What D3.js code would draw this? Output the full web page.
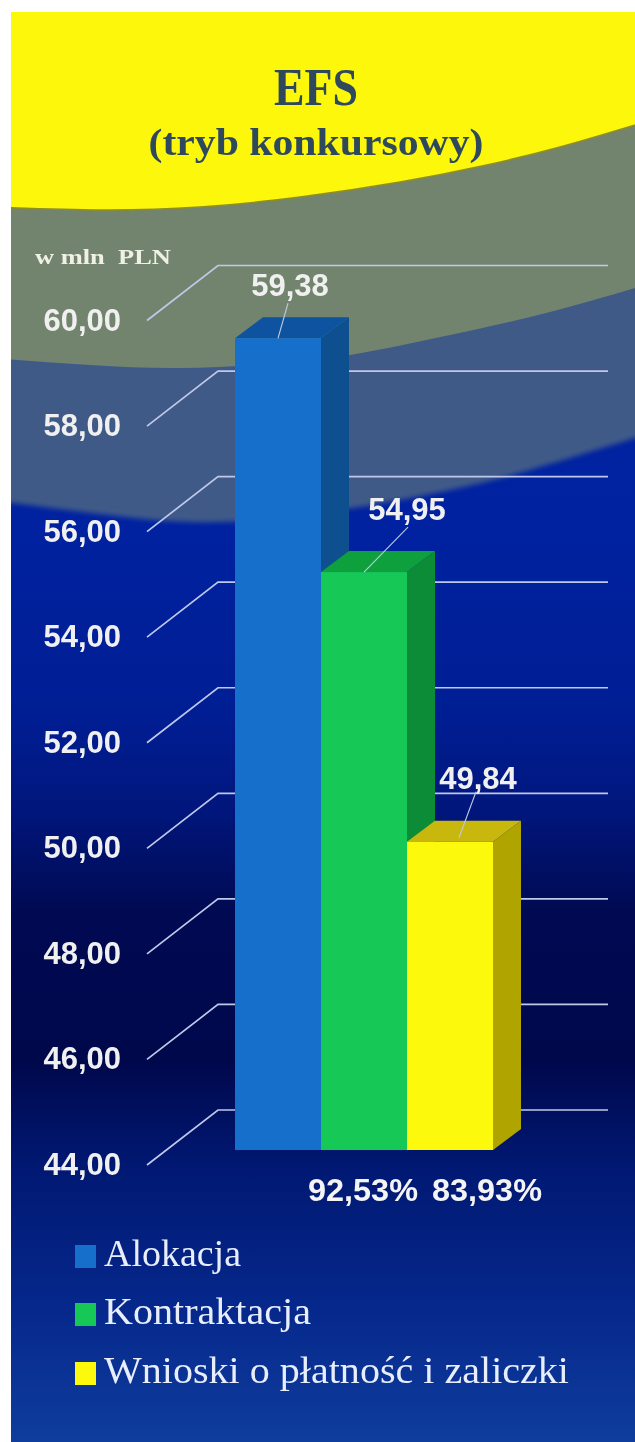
<!DOCTYPE html>
<html><head><meta charset="utf-8">
<script src="https://cdn.jsdelivr.net/npm/d3@7/dist/d3.min.js"></script>
<style>html,body{margin:0;padding:0;background:#fff}svg{display:block}</style>
</head><body><div id="c"></div>
<script>
const categories = ["Alokacja","Kontraktacja","Wnioski o płatność i zaliczki"];
const values = [59.38,54.95,49.84];
const valueLabels = ["59,38","54,95","49,84"];
const percentLabels = ["","92,53%","83,93%"];
const ticks = [44,46,48,50,52,54,56,58,60];
const frontColors = ["#1470cb","#14c855","#fdf90a"];
const topColors = ["#0a52a0","#0fa03c","#c8b80a"];
const sideColors = ["#074f8f","#0c8c38","#b0a400"];
const W=635,H=1442;
const svg=d3.select("#c").append("svg").attr("width",W).attr("height",H);
const defs=svg.append("defs");
const grad=defs.append("linearGradient").attr("id","bg").attr("x1",0).attr("x2",0).attr("y1",0).attr("y2",1);
[[0,"#0026a0"],[0.36,"#0022a0"],[0.485,"#001e94"],[0.555,"#00167c"],[0.624,"#000a52"],[0.728,"#00084c"],[0.8,"#001872"],[0.9,"#06288c"],[1,"#0f3f9e"]].forEach(s=>grad.append("stop").attr("offset",s[0]).attr("stop-color",s[1]));
const soft=defs.append("filter").attr("id","soft");soft.append("feGaussianBlur").attr("stdDeviation",0.45);
const edge=defs.append("filter").attr("id","edge").attr("x","-5%").attr("y","-5%").attr("width","110%").attr("height","110%");edge.append("feGaussianBlur").attr("stdDeviation",2.5);
const clip=defs.append("clipPath").attr("id","pic");clip.append("rect").attr("x",11).attr("y",12).attr("width",W-11).attr("height",H-12);
const bg=svg.append("g").attr("clip-path","url(#pic)");
bg.append("rect").attr("x",11).attr("y",12).attr("width",W).attr("height",H).attr("fill","url(#bg)");
const curve=d3.line().curve(d3.curveNatural);
const band=(pts,fill,stroke)=>bg.append("path").attr("d",curve(pts)+`L${W+10},0L-10,0Z`).attr("fill",fill).attr("stroke",stroke||"none").attr("stroke-width",1.5);
band([[-10,500],[100,514],[220,522],[353,508],[450,490],[530,470],[645,435]],"#3f5a88").attr("filter","url(#edge)");
band([[-10,358],[90,365],[180,368],[270,364],[350,355],[450,335],[550,312],[645,285]],"#73846e");
band([[-10,207],[100,210],[200,207],[300,197],[400,182],[482,166],[560,147],[645,122]],"#fdf70c","#8f8f20");

const y=d3.scaleLinear().domain([44,60]).range([1150,305.5]);
const depthX=71,depthY=-55;
const axisX=147,axisOff=15;
const root=svg.append("g").attr("filter","url(#soft)");
const grid=root.append("g");
ticks.forEach(t=>{
  const yb=y(t)+axisOff+depthY;
  grid.append("path").attr("d",`M${axisX},${y(t)+axisOff}L${axisX+depthX},${yb}H608`)
    .attr("fill","none").attr("stroke","#c0c8ea").attr("stroke-width",1.7);
  root.append("text").attr("x",121).attr("y",y(t)+axisOff+10).attr("text-anchor","end")
    .attr("font-family","Liberation Sans").attr("font-weight","bold").attr("font-size",31).attr("fill","#f0f0f0")
    .text(d3.format(".2f")(t).replace(".",","));
});
const x=d3.scaleBand().domain(categories).range([235,493]);
const bx=28,by=-21;
categories.forEach((c,i)=>{
  const x0=x(c),x1=x0+x.bandwidth(),yt=y(values[i]),yb=y(44);
  root.append("path").attr("d",`M${x1},${yt}l${bx},${by}V${yb+by}l${-bx},${-by}Z`).attr("fill",sideColors[i]);
  root.append("path").attr("d",`M${x0},${yt}l${bx},${by}H${x1+bx}l${-bx},${-by}Z`).attr("fill",topColors[i]);
  root.append("rect").attr("x",x0).attr("y",yt).attr("width",x.bandwidth()).attr("height",yb-yt).attr("fill",frontColors[i]);
});
const labelDx=[12,43,28], baseUp=[42,52,53], leadDx=[10,44,26], leadDy=[35,45,50], leadX0=[0,0,9];
categories.forEach((c,i)=>{
  const cx=x(c)+x.bandwidth()/2,yt=y(values[i]);
  root.append("line").attr("x1",cx+leadX0[i]).attr("y1",yt-(i===2?4:0)).attr("x2",cx+leadDx[i]).attr("y2",yt-leadDy[i]).attr("stroke","#c0c8e0").attr("stroke-width",1.1);
  root.append("text").attr("x",cx+labelDx[i]).attr("y",yt-baseUp[i]).attr("text-anchor","middle")
    .attr("font-family","Liberation Sans").attr("font-weight","bold").attr("font-size",31).attr("fill","#f0f0f0")
    .text(valueLabels[i]);
  if(percentLabels[i]) root.append("text").attr("x",cx+(i===1?-1:37)).attr("y",1201).attr("text-anchor","middle")
    .attr("font-family","Liberation Sans").attr("font-weight","bold").attr("font-size",32).attr("fill","#f4f4f4")
    .attr("textLength",110).attr("lengthAdjust","spacingAndGlyphs").text(percentLabels[i]);
});
root.append("text").attr("x",35).attr("y",264).attr("font-family","Liberation Serif").attr("font-weight","bold")
  .attr("font-size",21).attr("fill","#f0f0e4").attr("textLength",136).attr("lengthAdjust","spacingAndGlyphs").attr("xml:space","preserve").text("w mln  PLN");
root.append("text").attr("x",316).attr("y",105).attr("text-anchor","middle").attr("font-family","Liberation Serif")
  .attr("font-weight","bold").attr("font-size",52).attr("fill","#2f4a5c").attr("textLength",84).attr("lengthAdjust","spacingAndGlyphs").text("EFS");
root.append("text").attr("x",316).attr("y",155).attr("text-anchor","middle").attr("font-family","Liberation Serif")
  .attr("font-weight","bold").attr("font-size",37).attr("fill","#2f4a5c").attr("textLength",335).attr("lengthAdjust","spacingAndGlyphs").text("(tryb konkursowy)");
const legY=[1245,1303,1362];
const legLen=[137,207,465];
categories.forEach((c,i)=>{
  root.append("rect").attr("x",75).attr("y",legY[i]).attr("width",21).attr("height",23).attr("fill",frontColors[i]);
  root.append("text").attr("x",104).attr("y",legY[i]+21).attr("font-family","Liberation Serif").attr("font-size",38).attr("fill","#e8eefc")
    .attr("textLength",legLen[i]).attr("lengthAdjust","spacingAndGlyphs").text(c);
});
</script></body></html>
